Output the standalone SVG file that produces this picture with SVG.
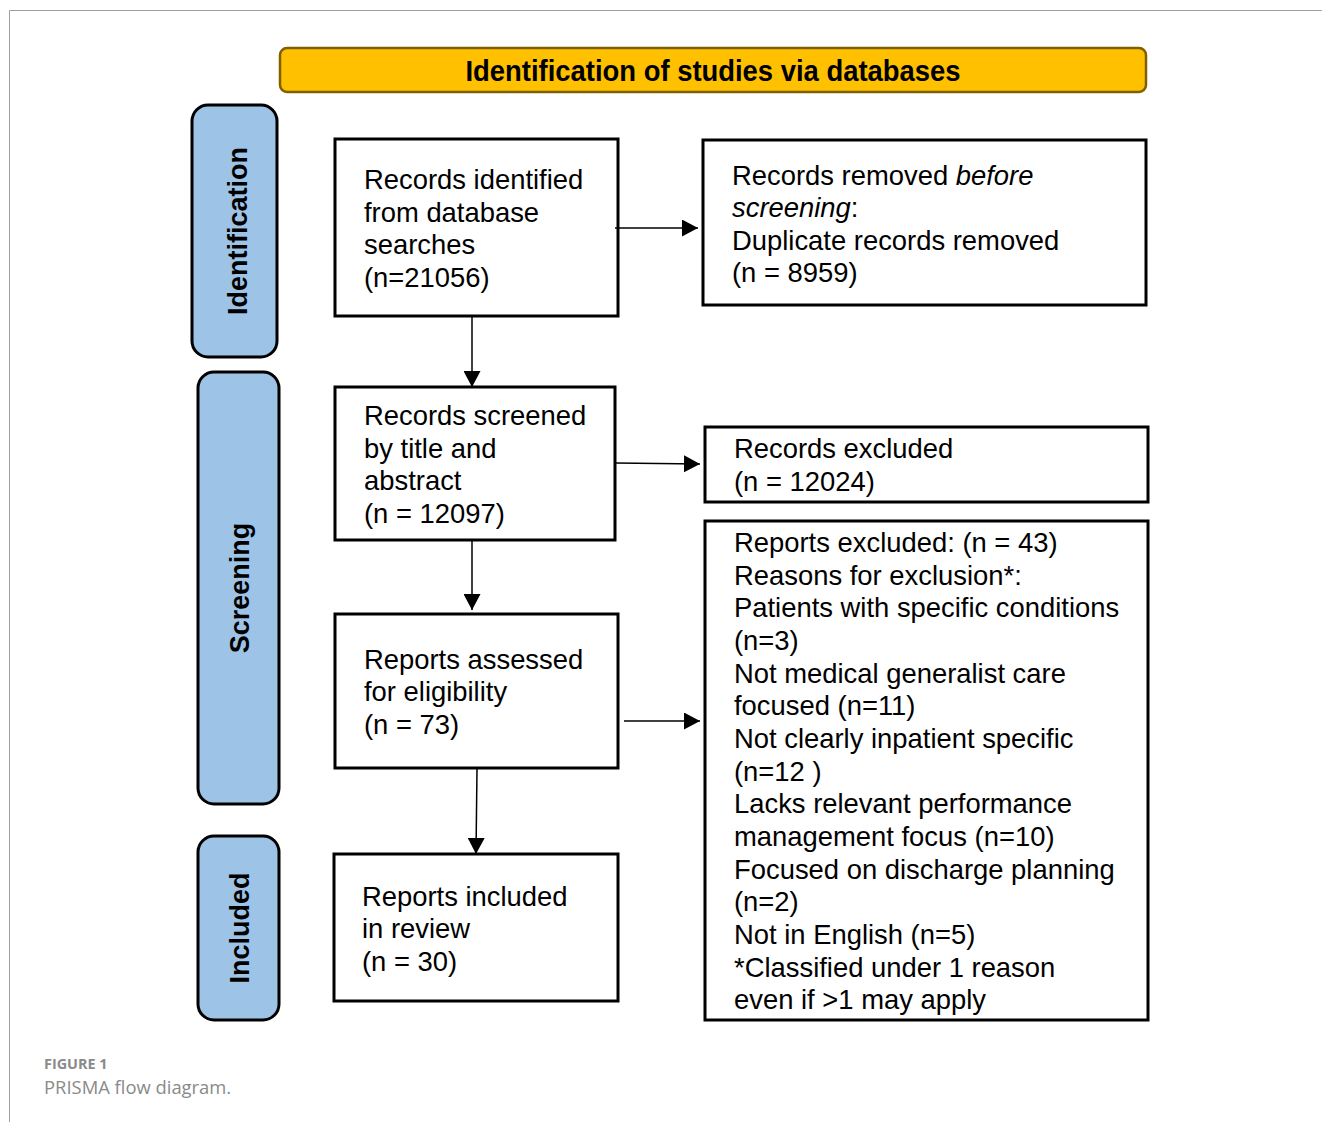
<svg xmlns="http://www.w3.org/2000/svg" width="1322" height="1122" viewBox="0 0 1322 1122">
<defs>
<marker id="ah" markerWidth="16" markerHeight="17" refX="16" refY="8.5" orient="auto" markerUnits="userSpaceOnUse">
<path d="M0,0 L16,8.5 L0,17 Z" fill="#000"/>
</marker>
<style>
.box{fill:#fff;stroke:#000;stroke-width:3}
.phase{fill:#9DC3E6;stroke:#000;stroke-width:3}
.t{font-family:"Liberation Sans",Arial,sans-serif;font-size:27.4px;fill:#000}
.pt{font-family:"Liberation Sans",Arial,sans-serif;font-size:27px;font-weight:bold;fill:#000;text-anchor:middle}
.c{stroke:#000;stroke-width:1.5;fill:none;marker-end:url(#ah)}
.cap1{font-family:"Open Sans","Noto Sans",sans-serif;font-size:14.4px;font-weight:bold;fill:#8a8a8a}
.cap2{font-family:"Open Sans","Noto Sans",sans-serif;font-size:18.4px;fill:#8a8a8a}
</style>
</defs>
<rect width="1322" height="1122" fill="#fff"/>
<path d="M9.5,1122 V10.5 H1322" fill="none" stroke="#a0a0a0" stroke-width="1"/>

<g id="header">
<rect x="280" y="48" width="866" height="44" rx="7" fill="#FFC000" stroke="#7F6000" stroke-width="2.5"/>
<text x="713" y="81" font-family="'Liberation Sans',Arial,sans-serif" font-size="29" font-weight="bold" text-anchor="middle" textLength="495" lengthAdjust="spacingAndGlyphs">Identification of studies via databases</text>
</g>

<g id="phase-identification">
<rect class="phase" x="192" y="105" width="85" height="252" rx="16"/>
<text class="pt" transform="translate(247,231) rotate(-90)">Identification</text>
</g>
<g id="phase-screening">
<rect class="phase" x="198" y="372" width="81" height="432" rx="16"/>
<text class="pt" transform="translate(249,588) rotate(-90)">Screening</text>
</g>
<g id="phase-included">
<rect class="phase" x="198" y="836" width="81" height="184" rx="16"/>
<text class="pt" transform="translate(249,928) rotate(-90)">Included</text>
</g>

<g id="n-identified">
<rect class="box" x="335" y="139" width="283" height="177"/>
<text class="t" x="364" y="189">Records identified</text>
<text class="t" x="364" y="222">from database</text>
<text class="t" x="364" y="254">searches</text>
<text class="t" x="364" y="287">(n=21056)</text>
</g>

<g id="n-removed">
<rect class="box" x="703" y="140" width="443" height="165"/>
<text class="t" x="732" y="185">Records removed <tspan font-style="italic">before</tspan></text>
<text class="t" x="732" y="217"><tspan font-style="italic">screening</tspan>:</text>
<text class="t" x="732" y="250">Duplicate records removed</text>
<text class="t" x="732" y="282">(n = 8959)</text>
</g>

<g id="n-screened">
<rect class="box" x="335" y="387" width="280" height="153"/>
<text class="t" x="364" y="425">Records screened</text>
<text class="t" x="364" y="458">by title and</text>
<text class="t" x="364" y="490">abstract</text>
<text class="t" x="364" y="523">(n = 12097)</text>
</g>

<g id="n-excluded">
<rect class="box" x="705" y="427" width="443" height="75"/>
<text class="t" x="734" y="458">Records excluded</text>
<text class="t" x="734" y="491">(n = 12024)</text>
</g>

<g id="n-assessed">
<rect class="box" x="335" y="614" width="283" height="154"/>
<text class="t" x="364" y="669">Reports assessed</text>
<text class="t" x="364" y="701">for eligibility</text>
<text class="t" x="364" y="734">(n = 73)</text>
</g>

<g id="n-reports-excluded">
<rect class="box" x="705" y="521" width="443" height="499"/>
<text class="t" x="734" y="552">Reports excluded: (n = 43)</text>
<text class="t" x="734" y="585">Reasons for exclusion*:</text>
<text class="t" x="734" y="617">Patients with specific conditions</text>
<text class="t" x="734" y="650">(n=3)</text>
<text class="t" x="734" y="683">Not medical generalist care</text>
<text class="t" x="734" y="715">focused (n=11)</text>
<text class="t" x="734" y="748">Not clearly inpatient specific</text>
<text class="t" x="734" y="781">(n=12 )</text>
<text class="t" x="734" y="813">Lacks relevant performance</text>
<text class="t" x="734" y="846">management focus (n=10)</text>
<text class="t" x="734" y="879">Focused on discharge planning</text>
<text class="t" x="734" y="911">(n=2)</text>
<text class="t" x="734" y="944">Not in English (n=5)</text>
<text class="t" x="734" y="977">*Classified under 1 reason</text>
<text class="t" x="734" y="1009">even if &gt;1 may apply</text>
</g>

<g id="n-included">
<rect class="box" x="334" y="854" width="284" height="147"/>
<text class="t" x="362" y="906">Reports included</text>
<text class="t" x="362" y="938">in review</text>
<text class="t" x="362" y="971">(n = 30)</text>
</g>

<g id="connectors">
<line class="c" x1="615" y1="228" x2="698" y2="228"/>
<line class="c" x1="616" y1="463" x2="700" y2="464"/>
<line class="c" x1="624" y1="721" x2="700" y2="721"/>
<line class="c" x1="472" y1="317" x2="472" y2="387"/>
<line class="c" x1="472" y1="541" x2="472" y2="610"/>
<line class="c" x1="477" y1="769" x2="476" y2="854"/>
</g>

<g id="caption">
<text class="cap1" x="44" y="1069">FIGURE 1</text>
<text class="cap2" x="44" y="1094">PRISMA flow diagram.</text>
</g>
</svg>
